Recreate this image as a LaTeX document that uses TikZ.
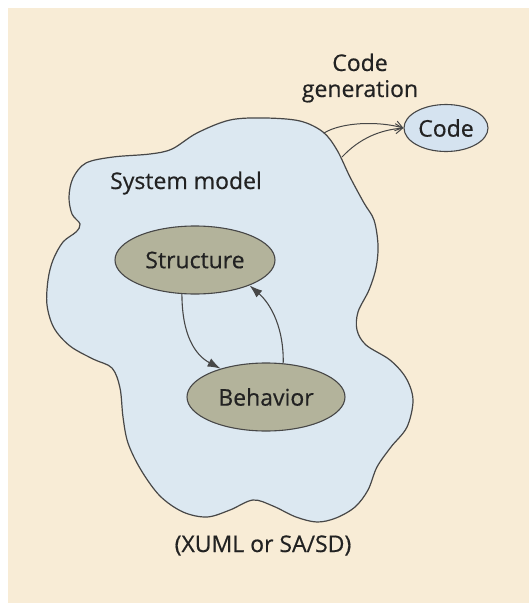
\documentclass[tikz,border=0pt]{standalone}
\usepackage{fontspec}
\setmainfont{Open Sans}
\newfontfamily\labelfont{Open Sans}[FakeBold=0.5]
\usetikzlibrary{shapes.geometric,arrows.meta}
\definecolor{bgbeige}{HTML}{F8ECD6}
\definecolor{blobblue}{HTML}{DCE8F1}
\definecolor{olive}{HTML}{B3B39B}
\definecolor{codeblue}{HTML}{D5E3F0}
\definecolor{ink}{HTML}{474747}
\definecolor{txt}{HTML}{222222}
\tikzset{
  lbl/.style={text=txt, font=\labelfont\fontsize{23}{26}\selectfont, inner sep=0pt},
  oval/.style={ellipse, draw=ink, line width=1.1pt, fill=olive, inner sep=0pt, text=txt, font=\labelfont\fontsize{23}{26}\selectfont},
  codeoval/.style={oval, fill=codeblue},
  blobline/.style={draw=ink, line width=1.2pt, fill=blobblue},
  genarrow/.style={draw=ink, line width=1pt, -{Straight Barb[length=7pt,width=10pt]}},
  flowarrow/.style={draw=ink, line width=1.1pt, -{Latex[length=13pt,width=9pt]}},
}
\begin{document}
\begin{tikzpicture}[x=1pt,y=-1pt]
\useasboundingbox (0,0) rectangle (529,603);
\fill[white] (0,0) rectangle (529,603);
\fill[bgbeige] (8,8) rectangle (529,603);
% blob
\path[blobline] plot[smooth cycle, tension=0.55] coordinates {
(230,120) (265,118) (300,121) (323,132) (337,150) (350,177) (364,203) (374,220)
(378,245) (376,268) (369,290) (358,312) (357,330) (366,345) (390,360) (406,378)
(413,400) (407,427) (391,447) (377,467) (368,490) (355,507) (336,518) (317,522)
(296,517) (273,506) (253,500) (230,510) (207,517) (183,512) (160,496) (141,470)
(128,443) (123,417) (120,388) (112,368) (93,359) (70,346) (54,328) (47,305)
(48,280) (53,260) (63,242) (76,232) (80,224) (72,214) (69,197) (73,178)
(86,163) (113,157) (150,154) (172,149) (197,133)};
\coordinate (cg1) at (324,133);
\coordinate (cg2) at (342,157);
% texts
\node[lbl, align=center] (cgtext) at (360,78) {Code\\generation};
\node[lbl, anchor=base west] (sysmodel) at (110,189) {System model};
\node[lbl, anchor=base] (xuml) at (263,552) {(XUML or SA/SD)};
% nodes
\node[codeoval, minimum width=84pt, minimum height=47pt] (code) at (446,128) {Code};
\node[oval, minimum width=160pt, minimum height=68pt] (S) at (195,260) {Structure};
\node[oval, minimum width=158pt, minimum height=68pt] (B) at (266,397) {Behavior};
% connectors
\draw[genarrow] (cg1) .. controls (342,122) and (378,121) .. (code.west);
\draw[genarrow] (cg2) .. controls (360,138) and (380,130) .. (code.west);
\draw[flowarrow] (S.-111) .. controls (182,335) and (195,355) .. (B.148);
\draw[flowarrow] (B.63) .. controls (284,330) and (272,305) .. (S.-25);
\end{tikzpicture}
\end{document}
